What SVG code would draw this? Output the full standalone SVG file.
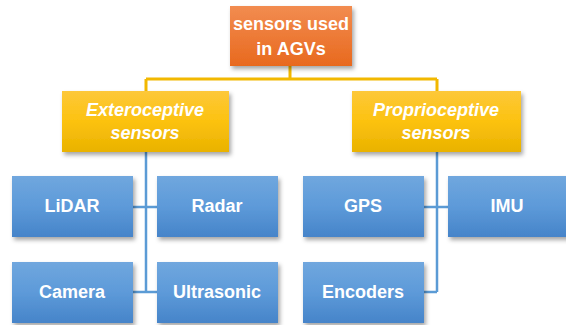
<svg xmlns="http://www.w3.org/2000/svg" width="566" height="325" viewBox="0 0 566 325">
<defs>
<linearGradient id="gOrange" x1="0" y1="0" x2="0" y2="1"><stop offset="0" stop-color="#f28c50"/><stop offset="1" stop-color="#e8691e"/></linearGradient>
<linearGradient id="gYellow" x1="0" y1="0" x2="0" y2="1"><stop offset="0" stop-color="#fdc83a"/><stop offset="0.5" stop-color="#fcc20f"/><stop offset="1" stop-color="#e9b200"/></linearGradient>
<linearGradient id="gBlue" x1="0" y1="0" x2="0" y2="1"><stop offset="0" stop-color="#70a7de"/><stop offset="0.5" stop-color="#5d9ad9"/><stop offset="1" stop-color="#4684c9"/></linearGradient>
<filter id="sh" x="-10%" y="-10%" width="130%" height="140%"><feDropShadow dx="2" dy="3" stdDeviation="2" flood-color="#000" flood-opacity="0.35"/></filter>
</defs>
<style>
.t{font-family:"Liberation Sans",Arial,sans-serif;font-weight:bold;fill:#fff;text-anchor:middle;font-size:18px}
.i{font-style:italic}
.y{stroke:#f2b800;stroke-width:3;fill:none}
.b{stroke:#5b9bd5;stroke-width:2.5;fill:none}
</style>
<g id="connectors">
<path class="y" d="M290 66V79M146 79H437M146 79V91M437 79V91"/>
<path class="b" d="M146 152V292M133 207H157M133 292H157"/>
<path class="b" d="M437 152V292M424 207H448M424 292H437"/>
</g>
<g id="root"><rect x="230" y="6" width="122" height="60" fill="url(#gOrange)" filter="url(#sh)"/><text class="t" x="291" y="30">sensors used</text><text class="t" x="291" y="55">in AGVs</text></g>
<g id="extero"><rect x="62" y="91" width="167" height="61" fill="url(#gYellow)" filter="url(#sh)"/><text class="t i" x="145" y="116">Exteroceptive</text><text class="t i" x="145" y="139">sensors</text></g>
<g id="proprio"><rect x="352" y="91" width="169" height="61" fill="url(#gYellow)" filter="url(#sh)"/><text class="t i" x="436" y="116">Proprioceptive</text><text class="t i" x="436" y="139">sensors</text></g>
<g id="lidar"><rect x="12" y="176" width="121" height="61" fill="url(#gBlue)" filter="url(#sh)"/><text class="t" x="72" y="212">LiDAR</text></g>
<g id="radar"><rect x="157" y="176" width="121" height="61" fill="url(#gBlue)" filter="url(#sh)"/><text class="t" x="217" y="212">Radar</text></g>
<g id="camera"><rect x="12" y="262" width="121" height="61" fill="url(#gBlue)" filter="url(#sh)"/><text class="t" x="72" y="298">Camera</text></g>
<g id="ultrasonic"><rect x="157" y="262" width="121" height="61" fill="url(#gBlue)" filter="url(#sh)"/><text class="t" x="217" y="298">Ultrasonic</text></g>
<g id="gps"><rect x="303" y="176" width="121" height="61" fill="url(#gBlue)" filter="url(#sh)"/><text class="t" x="363" y="212">GPS</text></g>
<g id="imu"><rect x="448" y="176" width="121" height="61" fill="url(#gBlue)" filter="url(#sh)"/><text class="t" x="507" y="212">IMU</text></g>
<g id="encoders"><rect x="303" y="262" width="121" height="61" fill="url(#gBlue)" filter="url(#sh)"/><text class="t" x="363" y="298">Encoders</text></g>
</svg>
